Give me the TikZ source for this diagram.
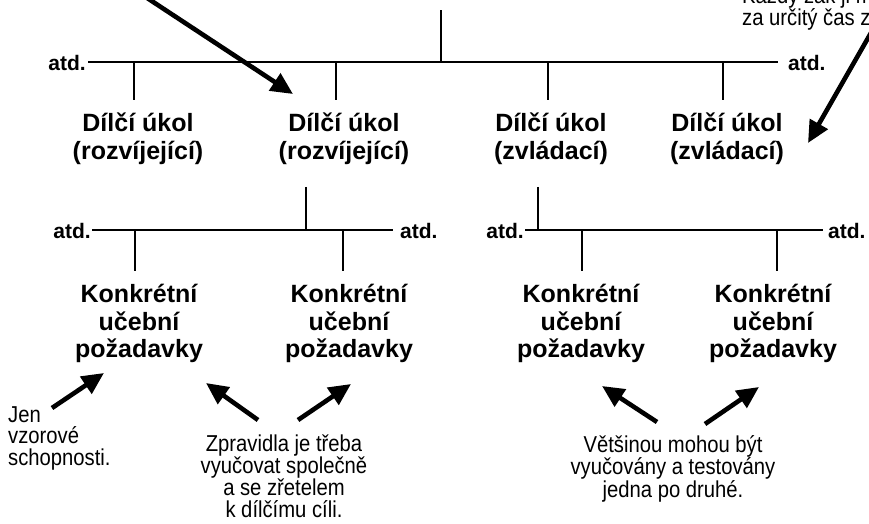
\documentclass[tikz,border=0pt]{standalone}
\usepackage{fontspec}
\setmainfont{Liberation Sans}
\newfontfamily\heavy{Liberation Sans}
\newfontfamily\notefont{Liberation Sans}[FakeStretch=0.88]
\usetikzlibrary{arrows.meta}
\begin{document}
\begin{tikzpicture}[x=1pt,y=-1pt,
  bar/.style={line width=2.2pt},
  big/.style={font=\heavy\fontsize{25}{27.5}\selectfont\bfseries, align=center, inner xsep=0pt, inner ysep=13pt},
  etc/.style={font=\heavy\fontsize{21}{22}\selectfont\bfseries, inner sep=0pt},
  note/.style={font=\notefont\fontsize{23}{21.7}\selectfont, inner sep=0pt},
  pointer/.style={line width=4.6pt, -{Triangle[length=22pt,width=20pt]}}
]
\useasboundingbox (0,0) rectangle (869,523);
\clip (0,0) rectangle (869,523);

% ---------- level 0 ----------
\coordinate (root) at (441,10);
\coordinate (rj) at (441,62);
\coordinate (b1L) at (88,62);
\coordinate (b1R) at (778,62);
\draw[bar] (root) -- (rj);
\draw[bar] (b1L) -- (b1R);
\node[etc, anchor=base east] (e1L) at ([shift={(-2,8)}]b1L) {atd.};
\node[etc, anchor=base west] (e1R) at ([shift={(10,8)}]b1R) {atd.};

% ---------- level 1 ----------
\node[big, anchor=north] (d1) at (138,100) {Dílčí úkol\\(rozvíjející)};
\node[big, anchor=north] (d2) at (344,100) {Dílčí úkol\\(rozvíjející)};
\node[big, anchor=north] (d3) at (551,100) {Dílčí úkol\\(zvládací)};
\node[big, anchor=north] (d4) at (727,100) {Dílčí úkol\\(zvládací)};
\coordinate (j1) at (134,62);
\coordinate (j2) at (336,62);
\coordinate (j3) at (548,62);
\coordinate (j4) at (723,62);
\draw[bar] (j1) -- (j1 |- d1.north);
\draw[bar] (j2) -- (j2 |- d2.north);
\draw[bar] (j3) -- (j3 |- d3.north);
\draw[bar] (j4) -- (j4 |- d4.north);

% ---------- level 2, left ----------
\coordinate (s2) at (306,230);
\coordinate (b2L) at (92,230);
\coordinate (b2R) at (393,230);
\draw[bar, shorten <=9pt] (s2 |- d2.south) -- (s2);
\draw[bar] (b2L) -- (b2R);
\node[etc, anchor=base east] (e2L) at ([shift={(-1,8)}]b2L) {atd.};
\node[etc, anchor=base west] (e2R) at ([shift={(7,8)}]b2R) {atd.};

% ---------- level 2, right ----------
\coordinate (s3) at (538,230);
\coordinate (b3L) at (525,230);
\coordinate (b3R) at (823,230);
\draw[bar, shorten <=9pt] (s3 |- d3.south) -- (s3);
\draw[bar] (b3L) -- (b3R);
\node[etc, anchor=base east] (e3L) at ([shift={(-1,8)}]b3L) {atd.};
\node[etc, anchor=base west] (e3R) at ([shift={(5,8)}]b3R) {atd.};

% ---------- level 3 ----------
\node[big, anchor=north] (k1) at (139,271) {Konkrétní\\učební\\požadavky};
\node[big, anchor=north] (k2) at (349,271) {Konkrétní\\učební\\požadavky};
\node[big, anchor=north] (k3) at (581,271) {Konkrétní\\učební\\požadavky};
\node[big, anchor=north] (k4) at (773,271) {Konkrétní\\učební\\požadavky};
\coordinate (kj1) at (135,230);
\coordinate (kj2) at (343,230);
\coordinate (kj3) at (582,230);
\coordinate (kj4) at (777,230);
\draw[bar] (kj1) -- (kj1 |- k1.north);
\draw[bar] (kj2) -- (kj2 |- k2.north);
\draw[bar] (kj3) -- (kj3 |- k3.north);
\draw[bar] (kj4) -- (kj4 |- k4.north);

% ---------- notes ----------
\node[note, anchor=north west, align=left] (n1) at (8,406) {Jen\\vzorové\\schopnosti.};
\node[note, anchor=north, align=center] (n2) at (284,435) {Zpravidla je třeba\\vyučovat společně\\a se zřetelem\\k dílčímu cíli.};
\node[note, anchor=north, align=center] (n3) at (673,435) {Většinou mohou být\\vyučovány a testovány\\jedna po druhé.};
\node[note, anchor=north west, align=left] (n4) at (742,-14) {Každý žák ji m\\za určitý čas z};

% ---------- pointers ----------
\coordinate (p0s) at (135,-10);  \coordinate (p0e) at (293,94);
\coordinate (p9s) at (880,17);   \coordinate (p9e) at (808,143);
\coordinate (p1s) at (52,408);   \coordinate (p1e) at (104,373);
\coordinate (p2s) at (258,420);  \coordinate (p2e) at (206,383);
\coordinate (p3s) at (298,420);  \coordinate (p3e) at (351,384);
\coordinate (p4s) at (657,422);  \coordinate (p4e) at (602,386);
\coordinate (p5s) at (705,424);  \coordinate (p5e) at (759,387);
\draw[pointer] (p0s) -- (p0e);
\draw[pointer] (p9s) -- (p9e);
\draw[pointer] (p1s) -- (p1e);
\draw[pointer] (p2s) -- (p2e);
\draw[pointer] (p3s) -- (p3e);
\draw[pointer] (p4s) -- (p4e);
\draw[pointer] (p5s) -- (p5e);
\end{tikzpicture}
\end{document}
